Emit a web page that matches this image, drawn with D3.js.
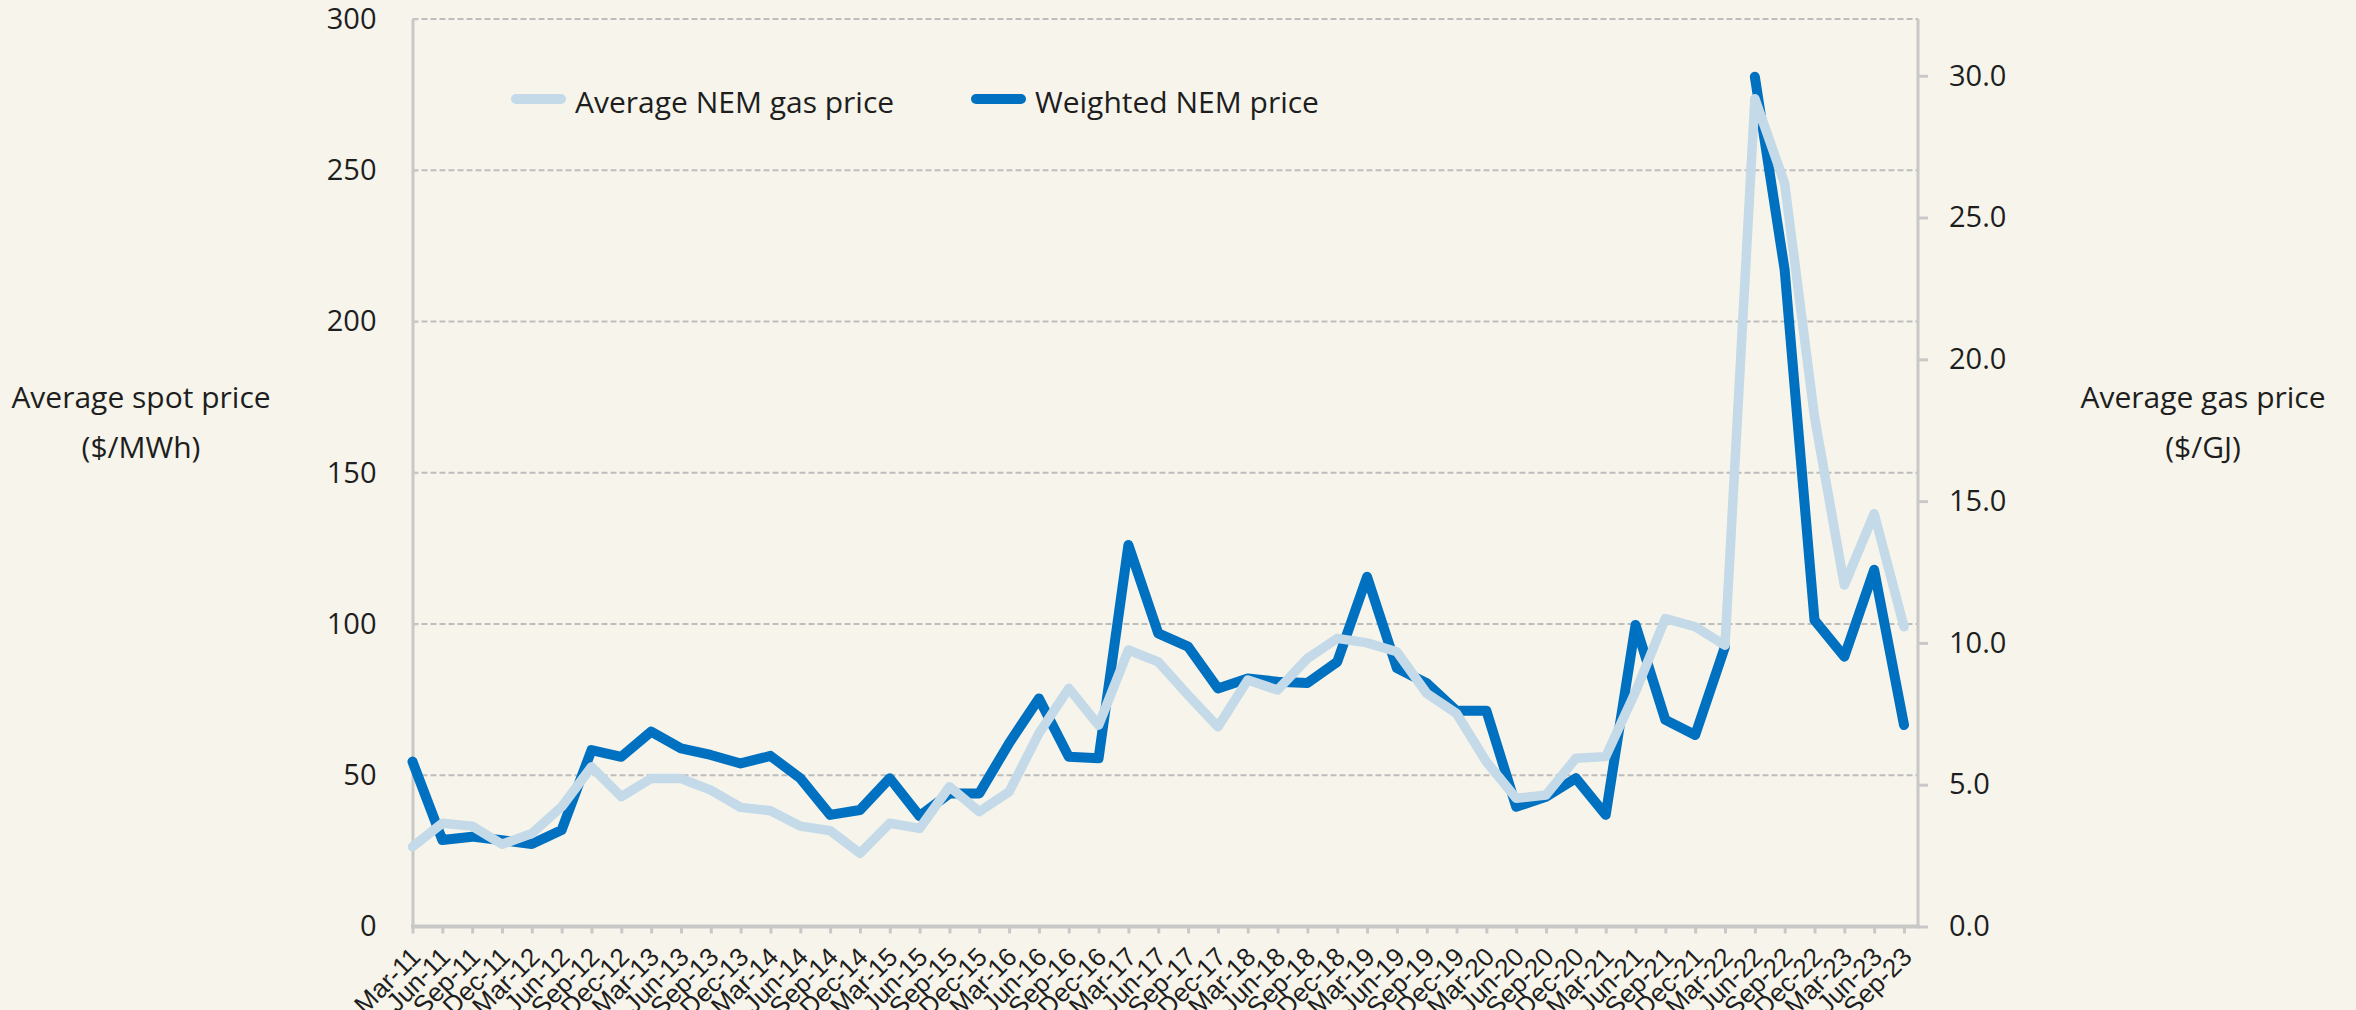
<!DOCTYPE html>
<html><head><meta charset="utf-8">
<script src="https://cdn.jsdelivr.net/npm/d3@7"></script>
<style>html,body{margin:0;padding:0;background:#F7F5EB;} svg{display:block}</style>
</head><body><svg id="chart" width="2356" height="1010"></svg>
<script>
const categories = ["Mar-11","Jun-11","Sep-11","Dec-11","Mar-12","Jun-12","Sep-12","Dec-12","Mar-13","Jun-13","Sep-13","Dec-13","Mar-14","Jun-14","Sep-14","Dec-14","Mar-15","Jun-15","Sep-15","Dec-15","Mar-16","Jun-16","Sep-16","Dec-16","Mar-17","Jun-17","Sep-17","Dec-17","Mar-18","Jun-18","Sep-18","Dec-18","Mar-19","Jun-19","Sep-19","Dec-19","Mar-20","Jun-20","Sep-20","Dec-20","Mar-21","Jun-21","Sep-21","Dec-21","Mar-22","Jun-22","Sep-22","Dec-22","Mar-23","Jun-23","Sep-23"];
// Weighted NEM price ($/MWh) - left axis
const nemPrice = [54.5,28.6,29.7,28.5,27.3,31.9,58.3,56.1,64.4,58.9,56.7,53.9,56.4,49.0,36.9,38.5,49.0,36.5,44.0,44.0,60.6,75.4,56.1,55.6,126.1,96.9,92.5,78.7,82.0,80.9,80.5,87.5,115.6,85.4,80.4,71.3,71.3,39.6,42.9,49.0,36.9,99.7,68.3,63.3,92.5,280.9,217.0,101.3,89.2,117.9,66.6];
// Average NEM gas price ($/GJ) - right axis
const gasPrice = [2.81,3.64,3.54,2.90,3.28,4.22,5.63,4.58,5.22,5.22,4.81,4.20,4.08,3.54,3.38,2.58,3.64,3.46,4.93,4.05,4.75,6.81,8.40,7.10,9.75,9.33,8.16,7.04,8.69,8.34,9.45,10.16,10.00,9.69,8.22,7.51,5.81,4.52,4.64,5.93,5.99,8.28,10.86,10.57,9.92,29.19,26.2,17.97,12.04,14.56,10.57];
const leftTicks = [0,50,100,150,200,250,300];
const rightTicks = [0,5,10,15,20,25,30];
const seriesNames = ["Average NEM gas price","Weighted NEM price"];
const leftTitle = ["Average spot price","($/MWh)"];
const rightTitle = ["Average gas price","($/GJ)"];

const DARK = "#0070C0", LIGHT = "#C4DAE8", AXIS = "#C8C8C6", GRID = "#BDBDBD", TXT = "#1E1E1E";
const svg = d3.select("#chart");
svg.append("rect").attr("width",2356).attr("height",1010).attr("fill","#F7F5EB");

const L = 412.5, R = 1918, T = 19, B = 926.5;
const x = d3.scalePoint().domain(categories).range([L, 1904]);
const yL = d3.scaleLinear().domain([0,300]).range([B,T]);
const yR = d3.scaleLinear().domain([0,32]).range([B,T]);

// gridlines
svg.append("g").selectAll("line").data(leftTicks.filter(d=>d>0)).join("line")
  .attr("x1",L).attr("x2",R).attr("y1",d=>yL(d)).attr("y2",d=>yL(d))
  .attr("stroke",GRID).attr("stroke-width",2).attr("stroke-dasharray","6,3");

const font = "'Open Sans', sans-serif";

// left axis
const gL = svg.append("g").attr("transform",`translate(${L},0)`)
  .call(d3.axisLeft(yL).tickValues(leftTicks).tickSizeInner(-5).tickSizeOuter(0).tickPadding(36).tickFormat(d3.format("d")));
gL.select(".domain").attr("stroke",AXIS).attr("stroke-width",3);
gL.selectAll(".tick line").attr("stroke",AXIS).attr("stroke-width",2);
gL.selectAll("text").attr("font-family",font).attr("font-size",29).attr("fill",TXT);

// right axis
const gR = svg.append("g").attr("transform",`translate(${R},0)`)
  .call(d3.axisRight(yR).tickValues(rightTicks).tickSizeInner(10).tickSizeOuter(0).tickPadding(21).tickFormat(d3.format(".1f")));
gR.select(".domain").attr("d",`M0,${T}V${B}`).attr("stroke",AXIS).attr("stroke-width",3);
gR.selectAll(".tick line").attr("stroke",AXIS).attr("stroke-width",3);
gR.selectAll("text").attr("font-family",font).attr("font-size",29).attr("fill",TXT);

// bottom axis
const gB = svg.append("g").attr("transform",`translate(0,${B})`)
  .call(d3.axisBottom(x).tickSizeInner(7).tickSizeOuter(0));
gB.select(".domain").remove();
gB.append("line").attr("x1",L-1.5).attr("x2",R+1.5).attr("y1",0).attr("y2",0).attr("stroke",AXIS).attr("stroke-width",4);
gB.selectAll(".tick line").attr("stroke",AXIS).attr("stroke-width",3);
gB.selectAll(".tick text").attr("x",0).attr("y",0).attr("dy",0)
  .attr("transform","translate(9,32) rotate(-45)").attr("text-anchor","end")
  .attr("font-family","'Liberation Sans', Arial, sans-serif").attr("font-size",26).attr("fill",TXT);

// lines
const idx = categories.map((c,i)=>i);
const lineL = d3.line().x(i=>x(categories[i])).y(i=>yL(nemPrice[i]));
const lineR = d3.line().x(i=>x(categories[i])).y(i=>yR(gasPrice[i]));
const g = svg.append("g").attr("fill","none").attr("stroke-linecap","round").attr("stroke-linejoin","round");
g.append("path").attr("d",lineL(idx.slice(0,45))).attr("stroke",DARK).attr("stroke-width",10);
g.append("path").attr("d",lineL(idx.slice(44,46))).attr("stroke",DARK).attr("stroke-width",1.6);
g.append("path").attr("d",lineL(idx.slice(45))).attr("stroke",DARK).attr("stroke-width",10);
g.append("path").attr("d",lineR(idx)).attr("stroke",LIGHT).attr("stroke-width",9.5);

// legend
const leg = [{name:seriesNames[0],color:LIGHT,x:511},{name:seriesNames[1],color:DARK,x:971}];
const lg = svg.append("g");
lg.selectAll("line").data(leg).join("line")
  .attr("x1",d=>d.x+5).attr("x2",d=>d.x+50).attr("y1",99).attr("y2",99)
  .attr("stroke",d=>d.color).attr("stroke-width",10).attr("stroke-linecap","round");
lg.selectAll("text").data(leg).join("text")
  .attr("x",d=>d.x+64).attr("y",113).text(d=>d.name)
  .attr("font-family",font).attr("font-size",30).attr("fill",TXT);

// axis titles
svg.append("g").selectAll("text").data(leftTitle).join("text")
  .attr("x",141).attr("y",(d,i)=>408+i*50).attr("text-anchor","middle").text(d=>d)
  .attr("font-family",font).attr("font-size",30).attr("fill",TXT);
svg.append("g").selectAll("text").data(rightTitle).join("text")
  .attr("x",2203).attr("y",(d,i)=>408+i*50).attr("text-anchor","middle").text(d=>d)
  .attr("font-family",font).attr("font-size",30).attr("fill",TXT);
</script></body></html>
